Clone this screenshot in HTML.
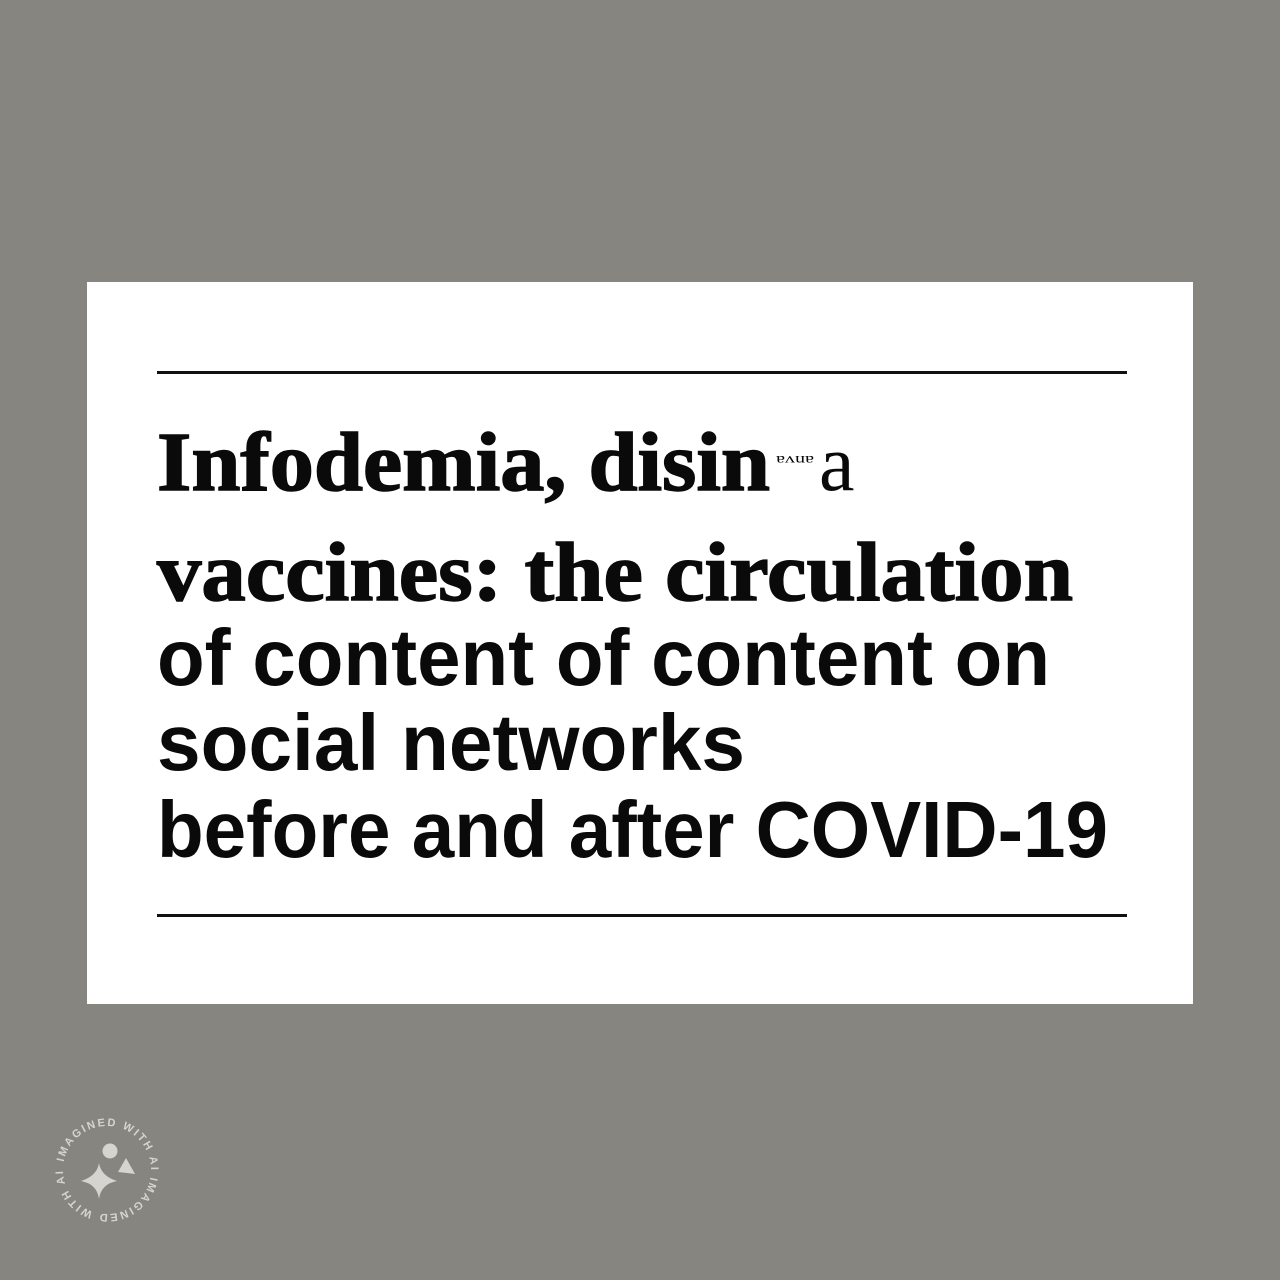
<!DOCTYPE html>
<html><head><meta charset="utf-8"><style>
html,body{margin:0;padding:0;background:#878580;}
svg{display:block}
</style></head><body>
<svg width="1280" height="1280" viewBox="0 0 1280 1280">
<rect x="0" y="0" width="1280" height="1280" fill="#878580"/>
<rect x="87" y="282" width="1106" height="722" fill="#ffffff"/>
<rect x="157" y="371" width="970" height="3" fill="#111"/>
<rect x="157" y="914" width="970" height="3" fill="#111"/>
<g fill="#0a0a0a" font-weight="bold">
<text x="157" y="490" font-family="'Liberation Serif',serif" font-size="84" textLength="613" lengthAdjust="spacingAndGlyphs" stroke="#0a0a0a" stroke-width="1.5">Infodemia, disin</text>
<text x="776" y="466" font-family="'Liberation Serif',serif" font-size="14" font-weight="normal" textLength="38" lengthAdjust="spacingAndGlyphs" transform="rotate(180 795 461)">anva</text>
<text x="819" y="490" font-family="'Liberation Serif',serif" font-size="80" font-weight="normal">a</text>
<text x="157" y="600" font-family="'Liberation Serif',serif" font-size="84" textLength="916" lengthAdjust="spacingAndGlyphs" stroke="#0a0a0a" stroke-width="1.5">vaccines: the circulation</text>
<text x="157" y="685" font-family="'Liberation Sans',sans-serif" font-size="80" textLength="893" lengthAdjust="spacingAndGlyphs">of content of content on</text>
<text x="157" y="770" font-family="'Liberation Sans',sans-serif" font-size="80" textLength="588" lengthAdjust="spacingAndGlyphs">social networks</text>
<text x="157" y="857" font-family="'Liberation Sans',sans-serif" font-size="80" textLength="951" lengthAdjust="spacingAndGlyphs">before and after COVID-19</text>
</g>
<g fill="#d6d4d0">
<defs><path id="badgeCircle" d="M63,1170 a44,44 0 1,1 88,0 a44,44 0 1,1 -88,0"/></defs>
<text font-family="'Liberation Sans',sans-serif" font-size="11" font-weight="bold" letter-spacing="2"><textPath href="#badgeCircle" startOffset="8">IMAGINED WITH AI  IMAGINED WITH AI</textPath></text>
<circle cx="110" cy="1151" r="7.5"/>
<path d="M126,1158 L135,1174 L118,1172 Z"/>
<path d="M99,1163 Q101,1176 117,1181 Q101,1184 99,1199 Q97,1184 81,1181 Q97,1176 99,1163 Z"/>
</g>
</svg>
</body></html>
